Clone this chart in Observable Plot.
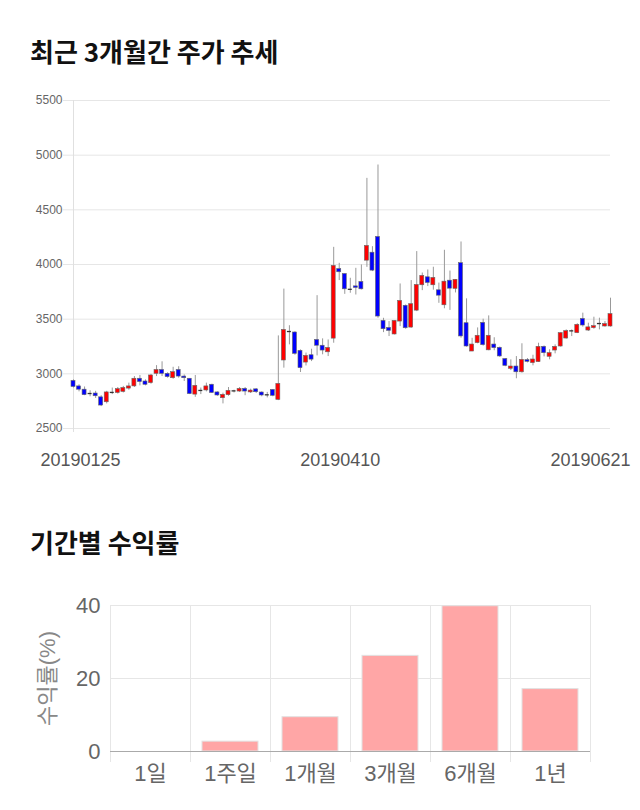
<!DOCTYPE html>
<html><head><meta charset="utf-8">
<script src="https://cdn.jsdelivr.net/npm/d3@7"></script>
<script src="https://cdn.jsdelivr.net/npm/@observablehq/plot@0.6"></script>
<style>
body{margin:0;background:#fff;width:640px;height:810px;position:relative;overflow:hidden;font-family:"Liberation Sans","Noto Sans CJK KR",sans-serif;}
.title{position:absolute;left:30px;font-family:"Noto Sans CJK KR",sans-serif;font-weight:700;font-size:26px;color:#111;line-height:1;white-space:nowrap;}
#c1{position:absolute;left:0;top:80px;}
#c2{position:absolute;left:0;top:580px;}
svg{overflow:visible;}
</style></head><body>
<div class="title" style="top:38px">최근 3개월간 주가 추세</div>
<div class="title" style="top:529px">기간별 수익률</div>
<div id="c1"></div><div id="c2"></div>
<script>
// ---- Candlestick data (98 trading days, 20190125 .. 20190621) ----
const opens  = [2935,2885,2855,2820,2820,2785,2740,2830,2825,2835,2865,2885,2955,2930,2915,3000,3035,3000,2960,3035,
                2975,2955,2810,2848,2848,2900,2830,2777,2805,2844,2838,2862,2830,2858,2829,2808,2853,2762,3122,3387,
                3378,3210,3103,3170,3310,3257,3197,3322,3958,3913,3773,3800,3840,4035,4108,4252,3484,3420,3360,3478,
                3622,3423,3578,3810,3883,3810,3764,3627,3852,3777,4012,3463,3204,3281,3466,3215,3268,3238,3135,3046,
                3067,3014,3125,3098,3107,3247,3156,3213,3250,3323,3393,3372,3502,3396,3418,3460,3433,3433];
const highs  = [2945,2900,2880,2845,2840,2800,2840,2870,2875,2885,2915,2975,2985,2945,2995,3075,3110,3010,3060,3065,
                2990,2955,2985,2870,2915,2905,2835,2823,2875,2850,2875,2875,2860,2865,2835,2830,2855,3347,3775,3440,
                3385,3219,3190,3225,3715,3320,3310,4157,4011,3913,3874,3965,3996,4788,4163,4910,3508,3478,3484,3822,
                3630,3853,4118,3922,3950,3975,3830,4130,3940,3862,4206,3686,3325,3420,3500,3530,3330,3245,3140,3128,
                3158,3275,3140,3170,3280,3255,3220,3265,3375,3402,3402,3458,3555,3463,3518,3509,3478,3692];
const lows   = [2870,2835,2800,2790,2775,2700,2725,2810,2815,2825,2850,2875,2890,2890,2905,2975,2975,2960,2950,2960,
                2930,2810,2785,2810,2835,2820,2795,2725,2795,2825,2830,2800,2820,2820,2790,2780,2790,2755,3052,3265,
                3170,3012,3072,3112,3164,3174,3158,3280,3853,3727,3737,3721,3767,3974,3935,3508,3377,3341,3356,3432,
                3408,3417,3569,3761,3798,3765,3645,3595,3580,3740,3326,3244,3204,3275,3253,3211,3211,3150,3065,3030,
                2955,3006,3100,3073,3104,3155,3128,3183,3244,3317,3341,3368,3427,3387,3408,3402,3427,3427];
const closes = [2880,2855,2805,2820,2795,2710,2830,2830,2860,2870,2885,2955,2925,2900,2985,3035,3000,2970,3015,2975,
                2960,2815,2890,2848,2885,2825,2802,2808,2844,2844,2862,2838,2847,2832,2802,2808,2799,2908,3402,3387,
                3183,3052,3164,3130,3257,3213,3237,3987,3929,3773,3773,3786,3773,4170,3944,3524,3408,3393,3484,3667,
                3417,3637,3813,3896,3831,3877,3715,3843,3779,3860,3342,3250,3268,3348,3262,3348,3235,3159,3073,3067,
                3014,3128,3110,3131,3247,3189,3189,3247,3372,3390,3393,3448,3442,3425,3436,3460,3455,3546];
const priceTicks = [2500,3000,3500,4000,4500,5000,5500];
const dateTickIdx = [0,48,97];
const dateTickLabels = ["20190125","20190410","20190621"];

// ---- Period return data ----
const periods = ["1일","1주일","1개월","3개월","6개월","1년"];
const returns = [0,2.7,9.4,26.2,39.8,17.1];
const returnTicks = [0,20,40];
const returnAxisTitle = "수익률(%)";

const FONT = '"Liberation Sans","Noto Sans CJK KR",sans-serif';

const candles = opens.map((o,i)=>({i,o,h:highs[i],l:lows[i],c:closes[i]}));
const hw = 0.36;
const dateTicks = dateTickIdx.map((i,k)=>({i,label:dateTickLabels[k]}));
const labelShift = [7,1,-20];

const chart1 = Plot.plot({
  width:640, height:400,
  marginTop:20, marginBottom:52, marginLeft:73, marginRight:30,
  style:{fontFamily:FONT, background:"transparent", color:"#666"},
  x:{domain:[0, opens.length-1], axis:null},
  y:{domain:[2500,5500], axis:null},
  marks:[
    Plot.ruleY(priceTicks, {stroke:"#e6e6e6"}),
    Plot.axisY({ticks:priceTicks, tickSize:10, tickPadding:1, stroke:"#e6e6e6", fill:"#666", fontSize:12, label:null, tickFormat:d=>String(d)}),
    Plot.ruleX([0], {stroke:"#e0e0e0", insetBottom:-4}),
    Plot.ruleX(candles, {x:"i", y1:"l", y2:"h", stroke:"#999", strokeWidth:1}),
    Plot.rect(candles.filter(d=>d.c>d.o), {x1:d=>d.i-hw, x2:d=>d.i+hw, y1:"o", y2:"c", fill:"#ff0000", stroke:"#666", strokeWidth:0.6}),
    Plot.rect(candles.filter(d=>d.c<d.o), {x1:d=>d.i-hw, x2:d=>d.i+hw, y1:"o", y2:"c", fill:"#0000ff", stroke:"#666", strokeWidth:0.6}),
    Plot.ruleY(candles.filter(d=>d.c===d.o), {y:"c", x1:d=>d.i-hw, x2:d=>d.i+hw, stroke:"#333", strokeWidth:1.3}),
    ...dateTicks.map((t,k)=>Plot.text([t], {x:"i", text:"label", frameAnchor:"bottom", dy:32, dx:labelShift[k], fontSize:18, fill:"#555", lineAnchor:"middle"}))
  ]
});
document.getElementById("c1").appendChild(chart1);

const retData = periods.map((p,i)=>({p, v:returns[i]}));
const chart2 = Plot.plot({
  width:640, height:220,
  marginTop:25, marginBottom:49, marginLeft:110, marginRight:50,
  style:{fontFamily:FONT, background:"transparent", color:"#666"},
  x:{domain:periods, paddingInner:0.3, paddingOuter:0.15, axis:null},
  y:{domain:[0,40], axis:null},
  marks:[
    Plot.ruleY(returnTicks.filter(d=>d>0), {stroke:"#e6e6e6"}),
    Plot.ruleX(periods, {x:d=>d, dx:-40, y1:40, y2:0, insetBottom:-11, stroke:"#e6e6e6"}),
    Plot.ruleX([periods[periods.length-1]], {x:d=>d, dx:40, y1:40, y2:0, insetBottom:-11, stroke:"#e6e6e6"}),
    Plot.barY(retData, {x:"p", y:"v", fill:"#ffa6a6", stroke:"#e2e2e2", strokeWidth:1}),
    Plot.ruleY([0], {stroke:"#aaa"}),
    Plot.axisY({ticks:returnTicks, tickSize:0, tickPadding:10, fill:"#666", fontSize:22, label:null}),
    Plot.text(periods, {x:d=>d, text:d=>d, frameAnchor:"bottom", dy:22, fontSize:22, fill:"#666", lineAnchor:"middle"}),
    Plot.text([returnAxisTitle], {frameAnchor:"left", textAnchor:"middle", dx:-63, rotate:-90, fontSize:22, fill:"#888", lineAnchor:"middle"})
  ]
});
document.getElementById("c2").appendChild(chart2);
</script>
</body></html>
